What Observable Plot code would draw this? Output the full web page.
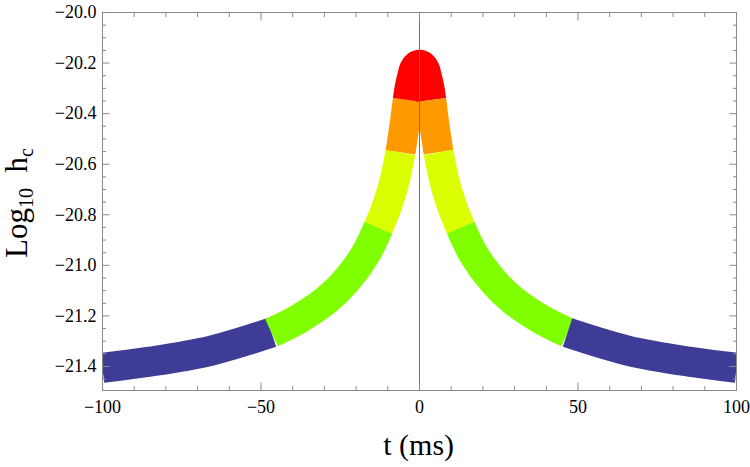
<!DOCTYPE html>
<html><head><meta charset="utf-8">
<script src="https://cdn.jsdelivr.net/npm/d3@7"></script>
<script src="https://cdn.jsdelivr.net/npm/@observablehq/plot@0.6"></script>
<style>html,body{margin:0;padding:0;background:#fff} svg{display:block}</style>
</head><body><div id="chart"></div>
<script>
// centreline of the thick curve: t (ms) and log10 h_c
const tValues = [-100, -85, -65.6, -46.7, -38, -29.4, -23.2, -17, -13, -11, -9.2, -7.9, -6, -4.8, -3.7, -3, -2.3, -1.7, -1, 0,
                 1, 1.7, 2.3, 3, 3.7, 4.8, 6, 7.9, 9.2, 11, 13, 17, 23.2, 29.4, 38, 46.7, 65.6, 85, 100];
const logH = [-21.405, -21.381, -21.337, -21.266, -21.211, -21.138, -21.062, -20.955, -20.851, -20.791, -20.725, -20.668, -20.553, -20.452, -20.346, -20.290, -20.253, -20.225, -20.212, -20.207,
              -20.212, -20.225, -20.253, -20.290, -20.346, -20.452, -20.553, -20.668, -20.725, -20.791, -20.851, -20.955, -21.062, -21.138, -21.211, -21.266, -21.337, -21.381, -21.405];
// colour bands along t
const segmentBounds = [-100, -46.7, -13, -6, -3.7, 3.7, 6, 13, 46.7, 100];
const segmentColors = ["#3e3c97", "#80ff00", "#dcff00", "#ff9900", "#ff0000", "#ff9900", "#dcff00", "#80ff00", "#3e3c97"];
// ticks
const xMajorTicks = [-100, -50, 0, 50, 100];
const xMinorTicks = [-90, -80, -70, -60, -40, -30, -20, -10, 10, 20, 30, 40, 60, 70, 80, 90];
const yMajorTicks = [-21.4, -21.2, -21.0, -20.8, -20.6, -20.4, -20.2, -20.0];
const yMinorTicks = [-21.45, -21.35, -21.3, -21.25, -21.15, -21.1, -21.05, -20.95, -20.9, -20.85, -20.75, -20.7, -20.65, -20.55, -20.5, -20.45, -20.35, -20.3, -20.25, -20.15, -20.1, -20.05];

const points = tValues.map((t, i) => ({t, v: logH[i]}));
const segments = segmentColors.map((color, i) => ({
  color,
  pts: points.filter(p => p.t >= segmentBounds[i] - 1e-9 && p.t <= segmentBounds[i + 1] + 1e-9)
}));

const frameColor = "#8a8a8a";
const fmt = d3.format(".1f");
const fmtX = d => (d < 0 ? "\u2212" + (-d) : String(d));

const plot = Plot.plot({
  width: 750, height: 467,
  marginLeft: 102, marginRight: 14, marginTop: 12, marginBottom: 77,
  x: {domain: [-100, 100]},
  y: {domain: [-21.495, -20.0]},
  style: {fontFamily: "'Liberation Serif', 'Times New Roman', serif", fontSize: "18px", color: "black", background: "white"},
  marks: [
    ...segments.map(s => Plot.line(s.pts, {x: "t", y: "v", stroke: s.color, strokeWidth: 30,
      strokeLinecap: "butt", strokeLinejoin: "round", curve: "catmull-rom", clip: true})),
    Plot.ruleX([0], {stroke: "#707070", strokeWidth: 1}),
    Plot.frame({stroke: frameColor}),
    // labels
    Plot.axisX(xMajorTicks, {anchor: "bottom", tickSize: 0, tickPadding: 10, tickFormat: fmtX, label: null}),
    Plot.axisY(yMajorTicks, {anchor: "left", tickSize: 0, tickPadding: 6, tickFormat: fmt, label: null}),
    // inward ticks on all four sides
    Plot.axisX(xMajorTicks, {anchor: "bottom", tickSize: -7.5, fill: "none", stroke: frameColor, label: null}),
    Plot.axisX(xMinorTicks, {anchor: "bottom", tickSize: -4, fill: "none", stroke: frameColor, label: null}),
    Plot.axisX(xMajorTicks, {anchor: "top", tickSize: -7.5, fill: "none", stroke: frameColor, label: null}),
    Plot.axisX(xMinorTicks, {anchor: "top", tickSize: -4, fill: "none", stroke: frameColor, label: null}),
    Plot.axisY(yMajorTicks, {anchor: "left", tickSize: -7.5, fill: "none", stroke: frameColor, label: null}),
    Plot.axisY(yMinorTicks, {anchor: "left", tickSize: -4, fill: "none", stroke: frameColor, label: null}),
    Plot.axisY(yMajorTicks, {anchor: "right", tickSize: -7.5, fill: "none", stroke: frameColor, label: null}),
    Plot.axisY(yMinorTicks, {anchor: "right", tickSize: -4, fill: "none", stroke: frameColor, label: null})
  ]
});

const svg = d3.select(plot);
// x-axis title
svg.append("text")
  .attr("x", 418.7).attr("y", 455)
  .attr("text-anchor", "middle")
  .attr("font-size", 30)
  .attr("fill", "black")
  .text("t (ms)");
// y-axis title with subscripts
const yt = svg.append("text")
  .attr("transform", "translate(27,203) rotate(-90)")
  .attr("text-anchor", "middle")
  .attr("font-size", 31)
  .attr("fill", "black");
yt.append("tspan").text("Log");
yt.append("tspan").attr("font-size", 20).attr("dy", 6).text("10");
yt.append("tspan").attr("dy", -6).text("\u2002h");
yt.append("tspan").attr("font-size", 20).attr("dy", 6).text("c");

document.getElementById("chart").appendChild(plot);
</script>
</body></html>
